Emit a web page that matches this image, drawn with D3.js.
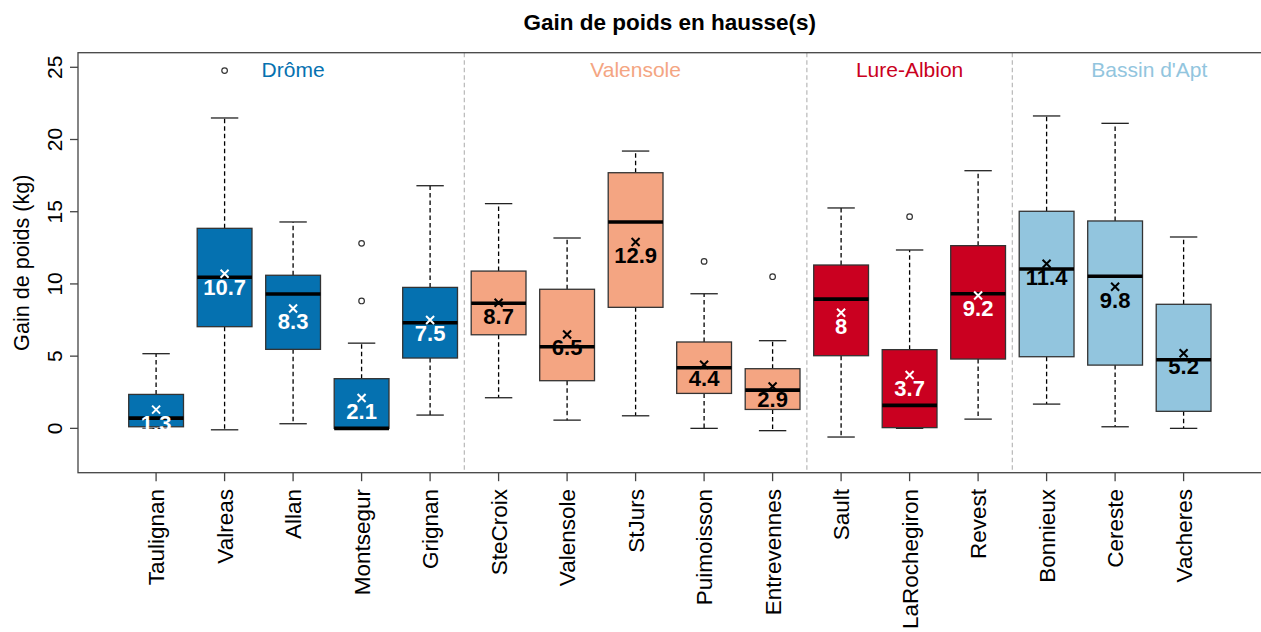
<!DOCTYPE html>
<html>
<head>
<meta charset="utf-8">
<script src="https://cdn.jsdelivr.net/npm/d3@7"></script>
<style>
  html, body { margin: 0; padding: 0; background: #fff; }
  svg { display: block; font-family: "Liberation Sans", Arial, Helvetica, sans-serif; }
</style>
</head>
<body>
<svg id="chart" width="1261" height="632"></svg>
<script>
// ---- data ----
const sites = ["Taulignan","Valreas","Allan","Montsegur","Grignan","SteCroix","Valensole","StJurs",
  "Puimoisson","Entrevennes","Sault","LaRochegiron","Revest","Bonnieux","Cereste","Vacheres"];
const groupNames = ["Drôme","Valensole","Lure-Albion","Bassin d'Apt"];
const groupColors = ["#0571B0","#F4A582","#CA0020","#92C5DE"];
const groupTextColors = ["#FFFFFF","#000000","#FFFFFF","#000000"];
const groupOfSite = [0,0,0,0,0,1,1,1,1,1,2,2,2,3,3,3];
const groupLabelPos = [3, 8, 12, 15.5];
const groupSeparators = [5.5, 10.5, 13.5];

const whiskerLow  = [0, -0.1, 0.32, 0, 0.92, 2.12, 0.57, 0.87, 0, -0.16, -0.6, 0, 0.64, 1.68, 0.11, 0];
const q1          = [0.11, 7.04, 5.47, 0, 4.87, 6.48, 3.3, 8.38, 2.42, 1.31, 5.03, 0.05, 4.8, 4.96, 4.38, 1.18];
const medians     = [0.71, 10.46, 9.3, 0, 7.31, 8.66, 5.65, 14.29, 4.2, 2.65, 8.95, 1.59, 9.32, 11.03, 10.53, 4.75];
const q3          = [2.35, 13.85, 10.6, 3.44, 9.76, 10.89, 9.63, 17.7, 5.98, 4.13, 11.31, 5.45, 12.65, 15.03, 14.36, 8.59];
const whiskerHigh = [5.17, 21.49, 14.29, 5.9, 16.8, 15.56, 13.18, 19.2, 9.32, 6.07, 15.26, 12.35, 17.84, 21.63, 21.12, 13.25];
const means       = [1.3, 10.7, 8.3, 2.1, 7.5, 8.7, 6.5, 12.9, 4.4, 2.9, 8, 3.7, 9.2, 11.4, 9.8, 5.2];
const outliers    = [[], [24.77], [], [12.81, 8.82], [], [], [], [], [11.56], [10.5], [], [14.66], [], [], [], []];
const yTicks = [0, 5, 10, 15, 20, 25];
const title = "Gain de poids en hausse(s)";
const yTitle = "Gain de poids (kg)";

// ---- layout ----
const L = 78, R = 1261.7, T = 52.7, B = 472.7;
const x = d3.scaleLinear().domain([-0.14, 17.14]).range([L, R]);
const y = d3.scaleLinear().domain([-3.07, 26.01]).range([B, T]);
const unit = x(1) - x(0);
const halfBox = 0.4 * unit, halfCap = 0.2 * unit;

const svg = d3.select("#chart");

// title
svg.append("text").attr("x", (L + R) / 2).attr("y", 30)
  .attr("text-anchor", "middle").attr("font-weight", "bold").attr("font-size", 22.5)
  .attr("fill", "#000").text(title);

// separators
svg.selectAll("line.sep").data(groupSeparators).enter().append("line")
  .attr("x1", d => x(d)).attr("x2", d => x(d)).attr("y1", T).attr("y2", B)
  .attr("stroke", "#bdbdbd").attr("stroke-width", 1.3).attr("stroke-dasharray", "4.5,3");

// group labels
svg.selectAll("text.grp").data(groupNames).enter().append("text")
  .attr("x", (d, i) => x(groupLabelPos[i])).attr("y", 76.5)
  .attr("text-anchor", "middle").attr("font-size", 21)
  .attr("fill", (d, i) => groupColors[i]).text(d => d);

const idx = d3.range(sites.length);
const pos = i => x(i + 1);

const g = svg.append("g");
// whiskers (dashed)
idx.forEach(i => {
  g.append("line").attr("x1", pos(i)).attr("x2", pos(i))
    .attr("y1", y(q3[i])).attr("y2", y(whiskerHigh[i]))
    .attr("stroke", "#000").attr("stroke-width", 1.3).attr("stroke-dasharray", "4.5,3");
  g.append("line").attr("x1", pos(i)).attr("x2", pos(i))
    .attr("y1", y(q1[i])).attr("y2", y(whiskerLow[i]))
    .attr("stroke", "#000").attr("stroke-width", 1.3).attr("stroke-dasharray", "4.5,3");
  [whiskerHigh[i], whiskerLow[i]].forEach(v => {
    g.append("line").attr("x1", pos(i) - halfCap).attr("x2", pos(i) + halfCap)
      .attr("y1", y(v)).attr("y2", y(v)).attr("stroke", "#222").attr("stroke-width", 1.3);
  });
});
// boxes
g.selectAll("rect.box").data(idx).enter().append("rect")
  .attr("x", i => pos(i) - halfBox).attr("width", 2 * halfBox)
  .attr("y", i => y(q3[i])).attr("height", i => Math.max(0, y(q1[i]) - y(q3[i])))
  .attr("fill", i => groupColors[groupOfSite[i]])
  .attr("stroke", "#333").attr("stroke-width", 1.3);
// medians
g.selectAll("line.med").data(idx).enter().append("line")
  .attr("x1", i => pos(i) - halfBox).attr("x2", i => pos(i) + halfBox)
  .attr("y1", i => y(medians[i])).attr("y2", i => y(medians[i]))
  .attr("stroke", "#000").attr("stroke-width", 3.6);
// outliers
idx.forEach(i => {
  outliers[i].forEach(v => {
    g.append("circle").attr("cx", pos(i)).attr("cy", y(v)).attr("r", 2.8)
      .attr("fill", "none").attr("stroke", "#333").attr("stroke-width", 1.2);
  });
});
// mean markers
idx.forEach(i => {
  const cx = pos(i), cy = y(means[i]), s = 4;
  const col = groupTextColors[groupOfSite[i]];
  g.append("path").attr("d", `M${cx - s},${cy - s}L${cx + s},${cy + s}M${cx - s},${cy + s}L${cx + s},${cy - s}`)
    .attr("stroke", col).attr("stroke-width", 2).attr("fill", "none");
});
// mean labels
g.selectAll("text.mean").data(idx).enter().append("text")
  .attr("x", i => pos(i)).attr("y", i => y(means[i]) + 21)
  .attr("text-anchor", "middle").attr("font-weight", "bold").attr("font-size", 22)
  .attr("fill", i => groupTextColors[groupOfSite[i]])
  .text(i => String(means[i]));

// frame
svg.append("rect").attr("x", L).attr("y", T).attr("width", R - L).attr("height", B - T)
  .attr("fill", "none").attr("stroke", "#444").attr("stroke-width", 1.3);

// y axis ticks
svg.selectAll("line.yt").data(yTicks).enter().append("line")
  .attr("x1", L - 8).attr("x2", L).attr("y1", d => y(d)).attr("y2", d => y(d))
  .attr("stroke", "#444").attr("stroke-width", 1.3);
svg.selectAll("text.yt").data(yTicks).enter().append("text")
  .attr("transform", d => `translate(62,${y(d)}) rotate(-90)`)
  .attr("text-anchor", "middle").attr("font-size", 21).attr("fill", "#000")
  .text(d => d);
// y title
svg.append("text").attr("transform", `translate(29,${(T + B) / 2}) rotate(-90)`)
  .attr("text-anchor", "middle").attr("font-size", 21.6).attr("fill", "#000").text(yTitle);

// x axis ticks
svg.selectAll("line.xt").data(idx).enter().append("line")
  .attr("x1", i => pos(i)).attr("x2", i => pos(i)).attr("y1", B).attr("y2", B + 8.5)
  .attr("stroke", "#444").attr("stroke-width", 1.3);
svg.selectAll("text.xt").data(idx).enter().append("text")
  .attr("transform", i => `translate(${pos(i) + 8.3},489) rotate(-90)`)
  .attr("text-anchor", "end").attr("font-size", 22.5).attr("fill", "#000")
  .text(i => sites[i]);
</script>
</body>
</html>
